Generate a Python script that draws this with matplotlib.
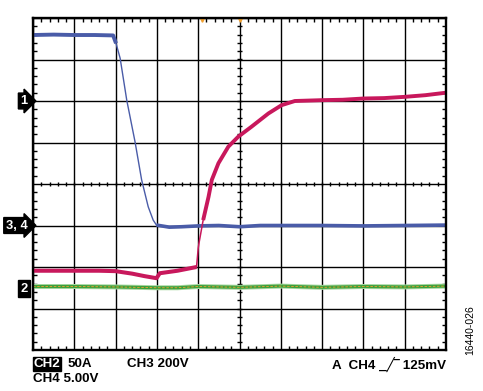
import numpy as np
import matplotlib.pyplot as plt

# Oscilloscope traces, in screen divisions (x: 0..10, y: -4..4)
blue_t = [0.0, 0.5, 1.0, 1.5, 1.94, 2.01, 2.11, 2.27, 2.47, 2.63, 2.79, 2.91, 2.99,
          3.3, 3.6, 4.0, 4.5, 5.0, 5.5, 6.0, 7.0, 8.0, 9.0, 10.0]
blue_v = [3.59, 3.6, 3.59, 3.59, 3.58, 3.39, 3.03, 2.02, 1.02, 0.1, -0.55, -0.87, -0.99,
          -1.04, -1.03, -1.01, -1.0, -1.03, -1.0, -1.0, -1.0, -1.01, -1.0, -0.99]

red_t = [0.0, 0.8, 1.6, 2.0, 2.4, 2.7, 2.99, 3.07, 3.5, 3.96, 4.0, 4.02, 4.12, 4.25,
         4.33, 4.49, 4.73, 4.97, 5.29, 5.7, 6.02, 6.34, 6.99, 7.5, 8.0, 8.5, 9.0, 9.5, 10.0]
red_v = [-2.09, -2.09, -2.09, -2.1, -2.16, -2.22, -2.27, -2.15, -2.09, -2.0, -1.55, -1.42,
         -0.87, -0.31, 0.1, 0.5, 0.9, 1.14, 1.38, 1.7, 1.9, 2.0, 2.02, 2.03, 2.06, 2.07,
         2.1, 2.14, 2.2]

green_t = [0.0, 1.0, 2.0, 3.0, 3.5, 4.0, 5.0, 6.0, 7.0, 8.0, 9.0, 10.0]
green_v = [-2.47, -2.47, -2.48, -2.5, -2.5, -2.47, -2.49, -2.46, -2.49, -2.47, -2.48, -2.46]

fig = plt.figure(figsize=(4.83, 3.91), dpi=100)
ax = fig.add_axes([33 / 483, 41 / 391, 413 / 483, 332 / 391])
ax.set_xlim(0, 10)
ax.set_ylim(-4, 4)

# grid
ax.set_xticks(np.arange(0, 11, 1))
ax.set_yticks(np.arange(-4, 5, 1))
ax.set_xticks(np.arange(0, 10.01, 0.2), minor=True)
ax.set_yticks(np.arange(-4, 4.01, 0.2), minor=True)
ax.grid(True, which='major', color='black', lw=1.0)
ax.tick_params(which='both', direction='in', top=True, right=True,
               labelbottom=False, labelleft=False, color='black')
ax.tick_params(which='major', length=0)
ax.tick_params(which='minor', length=3, width=1.0)
for s in ax.spines.values():
    s.set_linewidth(1.7)

# ticks along the centre cross
mx = np.arange(0.2, 10, 0.2)
my = np.arange(-3.8, 4, 0.2)
ax.vlines(mx, -0.06, 0.06, color='black', lw=1.0)
ax.hlines(my, 4.93, 5.07, color='black', lw=1.0)

# traces
gt = np.array(green_t); gv = np.array(green_v)
ax.plot(gt, gv, color='#a8d8a0', lw=3.6, solid_capstyle='butt')
ax.plot(gt, gv, color='#3ca03c', lw=2.2, solid_capstyle='butt')
ax.plot(gt, gv, color='#f0a030', lw=0.6, ls=(0, (3, 2)))

bt = np.array(blue_t); bv = np.array(blue_v)
ax.plot(bt[:6], bv[:6], color='#4a5ca8', lw=2.8, solid_capstyle='butt')
ax.plot(bt[4:13], bv[4:13], color='#4a5ca8', lw=1.0)
ax.plot(bt[12:], bv[12:], color='#4a5ca8', lw=2.6, solid_capstyle='butt')

rt = np.array(red_t); rv = np.array(red_v)
ax.plot(rt[:10], rv[:10], color='#c8185c', lw=2.9, solid_capstyle='butt')
ax.plot(rt[9:13], rv[9:13], color='#c8185c', lw=1.1)
ax.plot(rt[12:], rv[12:], color='#c8185c', lw=2.8, solid_capstyle='butt')

# trigger markers at top
ax.plot([4.1, 5.0], [3.96, 3.96], ls='none', marker='v', ms=2.5, color='#f0a030', clip_on=False)

# channel markers on the left
fnt = dict(family=['Liberation Sans', 'DejaVu Sans'], weight='bold', fontsize=9.6)
def marker(y, txt, arrow=True):
    ax.annotate(txt, xy=(0, y), xycoords=('axes fraction', 'data'), xytext=(-4, 0),
                textcoords='offset points', ha='right', va='center', color='white',
                bbox=dict(boxstyle='rarrow,pad=0.15' if arrow else 'square,pad=0.2',
                          fc='black', ec='black'), family='Liberation Sans',
                weight='bold', fontsize=9.3)
marker(2, '1')
marker(-1, '3, 4')
marker(-2.52, '2', arrow=False)

# readout text below
fig.text(34 / 483, 1 - 364 / 391, 'CH2', color='white', va='center', ha='left',
         bbox=dict(boxstyle='square,pad=0.05', fc='black', ec='black'), **fnt)
fig.text(68 / 483, 1 - 364 / 391, '50A', va='center', ha='left', **fnt)
fig.text(127 / 483, 1 - 364 / 391, 'CH3 200V', va='center', ha='left', **fnt)
fig.text(446 / 483, 1 - 364 / 391, 'A  CH4 _\u2571\u203e 125mV', va='center', ha='right', **fnt)
fig.text(33 / 483, 1 - 379 / 391, 'CH4 5.00V', va='center', ha='left', **fnt)
fig.text(470 / 483, 1 - 330 / 391, '16440-026', rotation=90, va='center', ha='center',
         family='Liberation Sans', fontsize=7.5)

fig.savefig('out.png', dpi=100)
